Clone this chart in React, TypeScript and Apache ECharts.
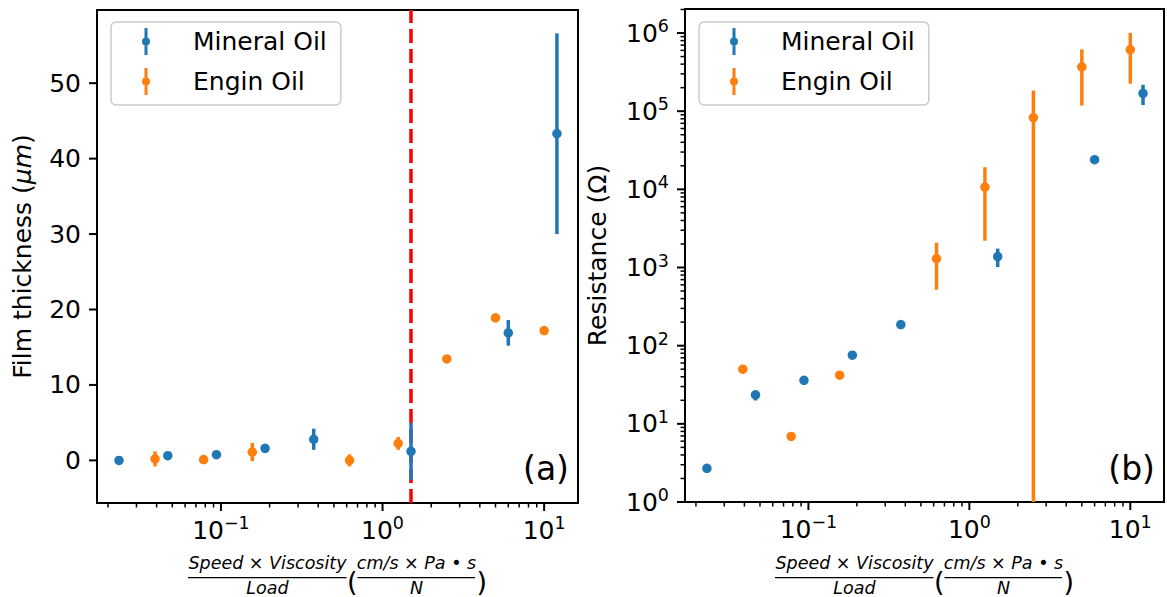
import React, { useEffect, useRef } from 'react';
import * as echarts from 'echarts';

// ---------- data ----------
const seriesNames = ['Mineral Oil', 'Engin Oil'];
const mineralX = [0.0234, 0.0469, 0.0938, 0.1875, 0.375, 1.5, 6, 12];
const engineX = [0.0391, 0.0781, 0.1563, 0.625, 1.25, 2.5, 5, 10];

const mineralFilm = [0.0, 0.62, 0.75, 1.6, 2.8, 1.2, 16.9, 43.3];
const mineralFilmErr = [0.15, 0.3, 0.25, 0.3, 1.4, 3.8, 1.7, 13.3];
const engineFilm = [0.2, 0.1, 1.1, 0.0, 2.25, 13.45, 18.9, 17.2];
const engineFilmErr = [1.0, 0.3, 1.2, 0.8, 0.85, 0.3, 0.2, 0.3];

const mineralRes = [2.7, 23.4, 36, 75.5, 186, 1380, 24000, 169000];
const mineralResErr = [0.1, 3.5, 2, 4, 10, 365, 2500, 49000];
const engineRes = [50, 6.9, 42, 1300, 10700, 82600, 368000, 615000];
const engineResErr = [2, 0.4, 3, 780, 8500, 102000, 250000, 390000];

const thresholdX = 1.5;

const xRange = [0.0171, 16.2];
const filmRange = [-5.65, 59.7];
const resRange = [1, 2.03e6];

const xMajorTicks = [0.1, 1, 10];
const filmMajorTicks = [0, 10, 20, 30, 40, 50];
const resMajorTicks = [1, 10, 100, 1e3, 1e4, 1e5, 1e6];

const filmAxisName = 'Film thickness ({i|μm})';
const resAxisName = 'Resistance (Ω)';
const xNumerator = 'Speed × Viscosity';
const xDenominator = 'Load';
const unitNumerator = 'cm/s × Pa • s';
const unitDenominator = 'N';
const panelTags = ['(a)', '(b)'];

// ---------- styles ----------
const FONT = 'DejaVu Sans';
const BLUE = '#1f77b4';
const ORANGE = '#ff7f0e';

const GRIDS = [
  { left: 97, top: 10, width: 481, height: 493 },
  { left: 685, top: 9, width: 479, height: 493 },
];

function minorLogTicks(lo: number, hi: number): number[] {
  const out: number[] = [];
  for (let d = Math.floor(Math.log10(lo)); d <= Math.ceil(Math.log10(hi)); d++) {
    for (let m = 2; m <= 9; m++) {
      const v = m * Math.pow(10, d);
      if (v >= lo && v <= hi) out.push(v);
    }
  }
  return out;
}

const logLabel = (v: number) => {
  const l = Math.log10(v);
  const e = Math.round(l);
  if (Math.abs(l - e) > 1e-6) return '';
  return '10{sup|' + (e < 0 ? '\u2212' + -e : String(e)) + '}';
};

const logAxisLabel = {
  color: '#000',
  fontFamily: FONT,
  fontSize: 25,
  lineHeight: 32,
  formatter: logLabel,
  rich: {
    sup: { fontSize: 17.5, lineHeight: 17.5, verticalAlign: 'top', fontFamily: FONT, color: '#000' },
  },
};

const hidden = { show: false };

const errorBarRender = (color: string, floor: number | null) => (params: any, api: any) => {
  const x = api.value(0);
  const y = api.value(1);
  const e = api.value(2);
  let lo = y - e;
  const hi = y + e;
  if (floor !== null && lo < floor) lo = floor;
  const p1 = api.coord([x, lo]);
  const p2 = api.coord([x, hi]);
  return {
    type: 'line',
    shape: { x1: p1[0], y1: p1[1], x2: p2[0], y2: p2[1] },
    style: { stroke: color, lineWidth: 3.5 },
  };
};

const tickRender = (params: any, api: any) => {
  const p = api.coord([api.value(0), api.value(1)]);
  const kind = api.value(2);
  const major = kind % 2 === 0;
  const len = major ? 8 : 4.5;
  const shape =
    kind < 2
      ? { x1: p[0], y1: p[1], x2: p[0], y2: p[1] + len }
      : { x1: p[0] - len, y1: p[1], x2: p[0], y2: p[1] };
  return { type: 'line', shape, style: { stroke: '#000', lineWidth: major ? 2 : 1.5 } };
};

function tickData(xMaj: number[], xMin: number[], yMaj: number[], yMin: number[], xLo: number, yLo: number) {
  return [
    ...xMaj.map((v) => [v, yLo, 0]),
    ...xMin.map((v) => [v, yLo, 1]),
    ...yMaj.map((v) => [xLo, v, 2]),
    ...yMin.map((v) => [xLo, v, 3]),
  ];
}

const LEGEND_ICON =
  'path://M2.5,0 L5.5,0 L5.5,27 L2.5,27 Z M0,13.5 A4,4 0 1 1 8,13.5 A4,4 0 1 1 0,13.5 Z';

function legendAt(left: number) {
  return {
    left,
    top: 22,
    orient: 'vertical',
    selectedMode: false,
    itemWidth: 8,
    itemHeight: 27,
    itemGap: 13,
    padding: [6, 14, 10, 31],
    backgroundColor: 'rgba(255,255,255,0.8)',
    borderColor: '#cccccc',
    borderWidth: 1.5,
    borderRadius: 5,
    textStyle: { fontFamily: FONT, fontSize: 25, color: '#000', lineHeight: 27, padding: [0, 0, 0, 38] },
    data: seriesNames.map((n) => ({ name: n, icon: LEGEND_ICON })),
  };
}

function xLabelGraphic(cx: number) {
  const italic = { fontFamily: FONT, fontSize: 17.5, fontStyle: 'italic', fill: '#000' };
  const txt = (text: string, x: number, y: number, extra: any = {}) => ({
    type: 'text',
    x,
    y,
    silent: true,
    style: { text, align: 'center', verticalAlign: 'middle', ...italic, ...extra },
  });
  const bar = (x1: number, x2: number) => ({
    type: 'line',
    silent: true,
    shape: { x1, y1: 577.7, x2, y2: 577.7 },
    style: { stroke: '#000', lineWidth: 1.3 },
  });
  return [
    txt(xNumerator, cx - 70, 563),
    bar(cx - 149.5, cx + 9),
    txt(xDenominator, cx - 70, 588),
    txt('(', cx + 9.5, 581.5, { align: 'left', fontStyle: 'normal', fontSize: 27 }),
    txt(unitNumerator, cx + 79, 563),
    bar(cx + 20, cx + 137.5),
    txt(unitDenominator, cx + 79, 588),
    txt(')', cx + 139, 581.5, { align: 'left', fontStyle: 'normal', fontSize: 27 }),
  ];
}

function buildOption() {
  const gridCx = GRIDS.map((g) => g.left + g.width / 2);
  const gridRight = GRIDS.map((g) => g.left + g.width);
  const xMinor = minorLogTicks(xRange[0], xRange[1]);
  const resMinor = minorLogTicks(resRange[0], resRange[1]);

  const scatter = (name: string, color: string, gi: number, xs: number[], ys: number[]) => ({
    type: 'scatter',
    name,
    xAxisIndex: gi,
    yAxisIndex: gi,
    data: xs.map((x, i) => [x, ys[i]]),
    symbol: 'circle',
    symbolSize: 9.5,
    itemStyle: { color, opacity: 1 },
    z: 4,
    silent: true,
  });
  const errs = (name: string, color: string, gi: number, xs: number[], ys: number[], es: number[], floor: number | null) => ({
    type: 'custom',
    name: name + ' error',
    xAxisIndex: gi,
    yAxisIndex: gi,
    clip: true,
    silent: true,
    z: 3,
    encode: { x: 0, y: 1 },
    data: xs.map((x, i) => [x, ys[i], es[i]]),
    renderItem: errorBarRender(color, floor),
  });

  return {
    animation: false,
    backgroundColor: '#fff',
    grid: GRIDS.map((g) => ({ ...g, show: true, borderColor: '#000', borderWidth: 2, containLabel: false })),
    legend: [legendAt(111), legendAt(699)],
    xAxis: [0, 1].map((gi) => ({
      type: 'log',
      logBase: 10,
      gridIndex: gi,
      min: xRange[0],
      max: xRange[1],
      axisLine: hidden,
      axisTick: hidden,
      splitLine: hidden,
      minorTick: hidden,
      axisLabel: { ...logAxisLabel, margin: 11 },
    })),
    yAxis: [
      {
        type: 'value',
        gridIndex: 0,
        min: filmRange[0],
        max: filmRange[1],
        axisLine: hidden,
        axisTick: hidden,
        splitLine: hidden,
        axisLabel: {
          color: '#000',
          fontFamily: FONT,
          fontSize: 25,
          margin: 16,
          formatter: (v: number) => (filmMajorTicks.some((t) => Math.abs(t - v) < 1e-9) ? String(v) : ''),
        },
        name: filmAxisName,
        nameLocation: 'middle',
        nameRotate: 90,
        nameGap: 62,
        nameTextStyle: {
          color: '#000',
          fontFamily: FONT,
          fontSize: 25,
          rich: { i: { fontStyle: 'italic', fontFamily: FONT, fontSize: 25, color: '#000' } },
        },
      },
      {
        type: 'log',
        logBase: 10,
        gridIndex: 1,
        min: resRange[0],
        max: resRange[1],
        axisLine: hidden,
        axisTick: hidden,
        splitLine: hidden,
        minorTick: hidden,
        axisLabel: { ...logAxisLabel, margin: 16 },
        name: resAxisName,
        nameLocation: 'middle',
        nameRotate: 90,
        nameGap: 75,
        nameTextStyle: { color: '#000', fontFamily: FONT, fontSize: 25 },
      },
    ],
    series: [
      {
        type: 'line',
        name: 'threshold',
        xAxisIndex: 0,
        yAxisIndex: 0,
        data: [],
        z: 1,
        markLine: {
          silent: true,
          z: 1,
          zlevel: 0,
          symbol: ['none', 'none'],
          label: { show: false },
          lineStyle: { color: '#ff0000', width: 3.5, type: [14, 6] },
          data: [{ xAxis: thresholdX }],
        },
      },
      errs(seriesNames[0], BLUE, 0, mineralX, mineralFilm, mineralFilmErr, null),
      errs(seriesNames[1], ORANGE, 0, engineX, engineFilm, engineFilmErr, null),
      errs(seriesNames[0], BLUE, 1, mineralX, mineralRes, mineralResErr, resRange[0]),
      errs(seriesNames[1], ORANGE, 1, engineX, engineRes, engineResErr, resRange[0]),
      scatter(seriesNames[0], BLUE, 0, mineralX, mineralFilm),
      scatter(seriesNames[1], ORANGE, 0, engineX, engineFilm),
      scatter(seriesNames[0], BLUE, 1, mineralX, mineralRes),
      scatter(seriesNames[1], ORANGE, 1, engineX, engineRes),
      {
        type: 'custom',
        name: 'ticks-a',
        xAxisIndex: 0,
        yAxisIndex: 0,
        clip: false,
        silent: true,
        z: 6,
        encode: { x: 0, y: 1 },
        data: tickData(xMajorTicks, xMinor, filmMajorTicks, [], xRange[0], filmRange[0]),
        renderItem: tickRender,
      },
      {
        type: 'custom',
        name: 'ticks-b',
        xAxisIndex: 1,
        yAxisIndex: 1,
        clip: false,
        silent: true,
        z: 6,
        encode: { x: 0, y: 1 },
        data: tickData(xMajorTicks, xMinor, resMajorTicks, resMinor, xRange[0], resRange[0]),
        renderItem: tickRender,
      },
    ],
    graphic: {
      elements: [
        ...xLabelGraphic(gridCx[0]),
        ...xLabelGraphic(gridCx[1]),
        ...panelTags.map((t, i) => ({
          type: 'text',
          x: gridRight[i] - 9,
          y: 468,
          silent: true,
          style: { text: t, fontFamily: FONT, fontSize: 33, fill: '#000', align: 'right', verticalAlign: 'middle' },
        })),
      ],
    },
  };
}

export default function App() {
  const ref = useRef<HTMLDivElement>(null);
  useEffect(() => {
    document.body.style.margin = '0';
    const chart = echarts.init(ref.current as HTMLDivElement, null, { renderer: 'svg' });
    chart.setOption(buildOption() as any);
    return () => chart.dispose();
  }, []);
  return <div ref={ref} style={{ width: 1167, height: 597 }} />;
}
